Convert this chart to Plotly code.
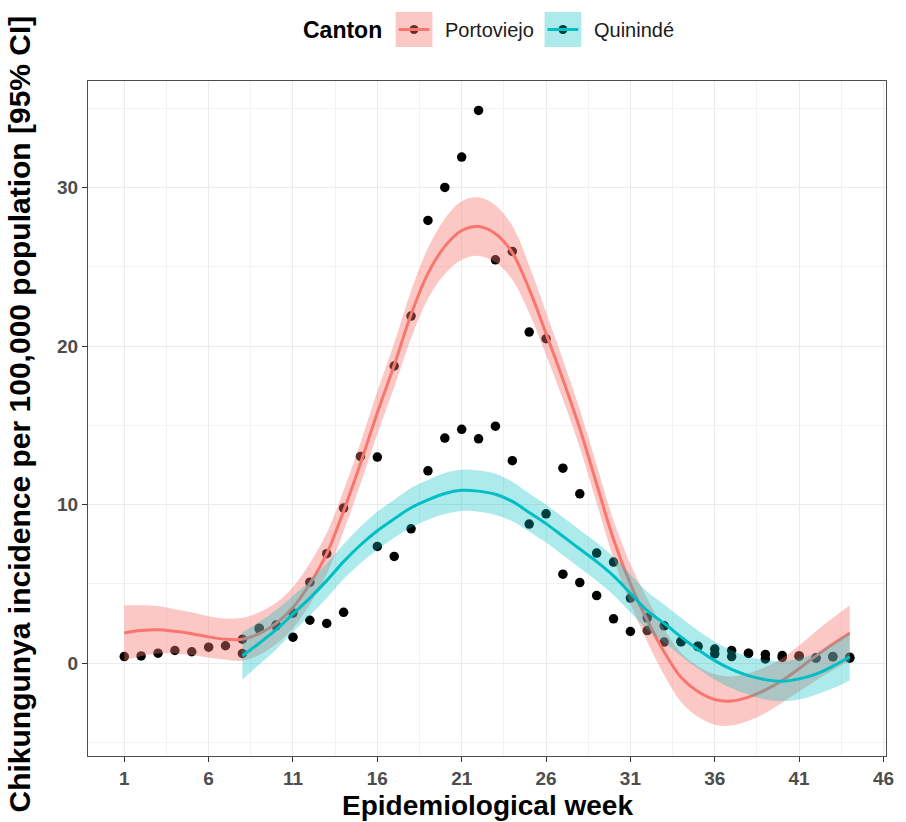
import plotly.graph_objects as go

# ---------------- data ----------------
weeks_p = list(range(1, 45))
incid_p = [0.41, 0.45, 0.62, 0.79, 0.71, 1.0, 1.09, 1.5, 2.2, 2.4,
           3.15, 5.1, 6.9, 9.78, 13.04, 13.0, 18.75, 21.9, 27.94, 30.02,
           31.94, 34.88, 25.45, 25.98, 20.89, 20.47, 12.3, 10.68, 4.26, 2.79,
           1.99, 2.05, 1.32, 1.34, 1.04, 0.58, 0.41, 0.62, 0.26, 0.47,
           0.45, 0.31, 0.41, 0.3]
fit_p = [1.9, 2.05, 2.1, 2.0, 1.85, 1.65, 1.5, 1.5, 1.85, 2.5,
         3.5, 5.0, 6.9, 9.6, 12.6, 15.8, 18.8, 22.0, 24.6, 26.3,
         27.3, 27.55, 27.1, 25.9, 23.6, 20.8, 17.9, 14.8, 11.3, 7.8,
         5.0, 2.7, 0.7, -0.9, -1.8, -2.3, -2.4, -2.15, -1.7, -1.1,
         -0.35, 0.45, 1.2, 1.9]
lo_p = [0.15, 0.45, 0.6, 0.6, 0.5, 0.35, 0.2, 0.15, 0.5, 1.2,
        2.2, 3.7, 5.6, 8.3, 11.3, 14.45, 17.4, 20.5, 23.0, 24.55,
        25.45, 25.7, 25.3, 24.2, 22.1, 19.45, 16.65, 13.6, 10.1, 6.6,
        3.75, 1.35, -0.75, -2.45, -3.4, -3.9, -3.95, -3.65, -3.15, -2.5,
        -1.8, -1.1, -0.45, 0.15]
hi_p = [3.65, 3.65, 3.6, 3.4, 3.2, 2.95, 2.8, 2.85, 3.2, 3.8,
        4.8, 6.3, 8.2, 10.9, 13.9, 17.15, 20.2, 23.5, 26.2, 28.05,
        29.15, 29.4, 28.9, 27.6, 25.1, 22.15, 19.15, 16.0, 12.5, 9.0,
        6.25, 4.05, 2.15, 0.65, -0.2, -0.7, -0.85, -0.65, -0.25, 0.3,
        1.1, 2.0, 2.85, 3.65]

weeks_q = list(range(8, 45))
incid_q = [0.6, 2.15, 2.35, 1.63, 2.7, 2.5, 3.2, None, 7.36, 6.73,
           8.47, 12.13, 14.2, 14.75, 14.15, 14.95, 12.77, 8.77, 9.42, 5.61,
           5.08, 6.94, 6.37, 4.1, 2.85, 2.35, 1.36, 1.06, 0.88, 0.79,
           0.6, 0.54, 0.35, 0.43, 0.33, 0.39, 0.37]
fit_q = [0.45, 1.25, 2.1, 3.1, 4.1, 5.2, 6.4, 7.45, 8.35, 9.1,
         9.8, 10.3, 10.7, 10.9, 10.85, 10.65, 10.2, 9.5, 8.8, 8.0,
         7.2, 6.4, 5.5, 4.4, 3.3, 2.5, 1.65, 0.85, 0.15, -0.4,
         -0.8, -1.05, -1.15, -1.0, -0.7, -0.2, 0.4]
lo_q = [-1.05, -0.1, 0.85, 1.95, 3.0, 4.1, 5.3, 6.3, 7.15, 7.9,
        8.55, 9.05, 9.4, 9.6, 9.55, 9.35, 8.95, 8.3, 7.6, 6.8,
        6.0, 5.2, 4.3, 3.2, 2.1, 1.3, 0.45, -0.35, -1.05, -1.6,
        -2.0, -2.3, -2.4, -2.3, -2.0, -1.6, -1.1]
hi_q = [1.95, 2.6, 3.35, 4.25, 5.2, 6.3, 7.5, 8.6, 9.55, 10.3,
        11.05, 11.55, 12.0, 12.2, 12.15, 11.95, 11.45, 10.7, 10.0, 9.2,
        8.4, 7.6, 6.7, 5.6, 4.5, 3.7, 2.85, 2.05, 1.35, 0.8,
        0.4, 0.2, 0.1, 0.3, 0.6, 1.2, 1.9]

x_ticks = [1, 6, 11, 16, 21, 26, 31, 36, 41, 46]
y_ticks = [0, 10, 20, 30]
cantons = ["Portoviejo", "Quinindé"]

# ---------------- style ----------------
RED = "#F8766D"
TEAL = "#00BFC4"
RED_FILL = "rgba(248,118,109,0.4)"
TEAL_FILL = "rgba(0,191,196,0.32)"
FONT = "Liberation Sans, Arial, sans-serif"

W, H = 906, 822
L, R, T, B = 88, 14, 81, 66
PW, PH = W - L - R, H - T - B


def pxx(x):
    return (x - L) / PW


def pyy(y):
    return (H - B - y) / PH


fig = go.Figure()

# points (drawn first, ribbons overlay them as in ggplot)
fig.add_trace(go.Scatter(x=weeks_p, y=incid_p, mode="markers",
                         marker=dict(color="black", size=9.5), showlegend=False,
                         hoverinfo="skip"))
fig.add_trace(go.Scatter(x=weeks_q, y=incid_q, mode="markers",
                         marker=dict(color="black", size=9.5), showlegend=False,
                         hoverinfo="skip"))

for wk, fit, lo, hi, col, fill in [
        (weeks_p, fit_p, lo_p, hi_p, RED, RED_FILL),
        (weeks_q, fit_q, lo_q, hi_q, TEAL, TEAL_FILL)]:
    fig.add_trace(go.Scatter(x=wk, y=lo, mode="lines",
                             line=dict(width=0, shape="spline", color=col),
                             showlegend=False, hoverinfo="skip"))
    fig.add_trace(go.Scatter(x=wk, y=hi, mode="lines", fill="tonexty",
                             fillcolor=fill,
                             line=dict(width=0, shape="spline", color=col),
                             showlegend=False, hoverinfo="skip"))
    fig.add_trace(go.Scatter(x=wk, y=fit, mode="lines",
                             line=dict(width=3, shape="spline", color=col),
                             showlegend=False, hoverinfo="skip"))

axis_common = dict(
    showline=True, mirror=True, linecolor="#4d4d4d", linewidth=1,
    showgrid=True, gridcolor="#EBEBEB", gridwidth=1.2,
    zeroline=False, ticks="outside", ticklen=5, tickcolor="#333333",
    tickwidth=1,
    tickfont=dict(family=FONT, size=19, color="#4D4D4D", weight="bold"),
)

fig.update_xaxes(range=[-1.15, 46.15], tickmode="array", tickvals=x_ticks,
                 ticktext=[str(v) for v in x_ticks],
                 minor=dict(showgrid=True, gridcolor="#F2F2F2", gridwidth=0.8,
                            tick0=1, dtick=2.5),
                 **axis_common)
fig.update_yaxes(range=[-5.87, 36.74], tickmode="array", tickvals=y_ticks,
                 ticktext=[str(v) for v in y_ticks],
                 minor=dict(showgrid=True, gridcolor="#F2F2F2", gridwidth=0.8,
                            tick0=0, dtick=5),
                 **axis_common)

annotations = [
    dict(text="Epidemiological week", x=0.5, y=pyy(822), xref="paper",
         yref="paper", xanchor="center", yanchor="bottom", showarrow=False,
         borderpad=0,
         font=dict(family=FONT, size=28, color="black", weight="bold")),
    dict(text="Chikungunya incidence per 100,000 population [95% CI]",
         x=pxx(19), y=pyy(414), xref="paper", yref="paper", xanchor="center",
         yanchor="middle", textangle=-90, showarrow=False,
         font=dict(family=FONT, size=30, color="black", weight="bold")),
    dict(text="Canton", x=pxx(386), y=pyy(30), xref="paper", yref="paper",
         xanchor="right", yanchor="middle", showarrow=False,
         font=dict(family=FONT, size=23, color="black", weight="bold")),
]

shapes = []
key_x = [398, 548]
text_x = [446, 596]
for name, kx, tx, col, fill, dot in zip(cantons, key_x, text_x, [RED, TEAL],
                                        [RED_FILL, TEAL_FILL],
                                        ["black", "black"]):
    cx = kx + 18.5
    shapes.append(dict(type="circle", xref="paper", yref="paper",
                       x0=pxx(cx - 4.5), x1=pxx(cx + 4.5),
                       y0=pyy(29.5 + 4.5), y1=pyy(29.5 - 4.5),
                       fillcolor=dot, line=dict(width=0)))
    shapes.append(dict(type="rect", xref="paper", yref="paper",
                       x0=pxx(kx), x1=pxx(kx + 37), y0=pyy(47), y1=pyy(12),
                       fillcolor=fill, line=dict(width=0)))
    shapes.append(dict(type="line", xref="paper", yref="paper",
                       x0=pxx(kx + 3), x1=pxx(kx + 34), y0=pyy(29.5),
                       y1=pyy(29.5), line=dict(color=col, width=3)))
    annotations.append(dict(text=name, x=pxx(tx), y=pyy(30), xref="paper",
                            yref="paper", xanchor="left", yanchor="middle",
                            showarrow=False,
                            font=dict(family=FONT, size=20, color="#1A1A1A")))

fig.update_layout(
    width=W, height=H,
    margin=dict(l=L, r=R, t=T, b=B, pad=0),
    plot_bgcolor="white", paper_bgcolor="white",
    showlegend=False,
    annotations=annotations,
    shapes=shapes,
)

fig.write_html("out.html")
